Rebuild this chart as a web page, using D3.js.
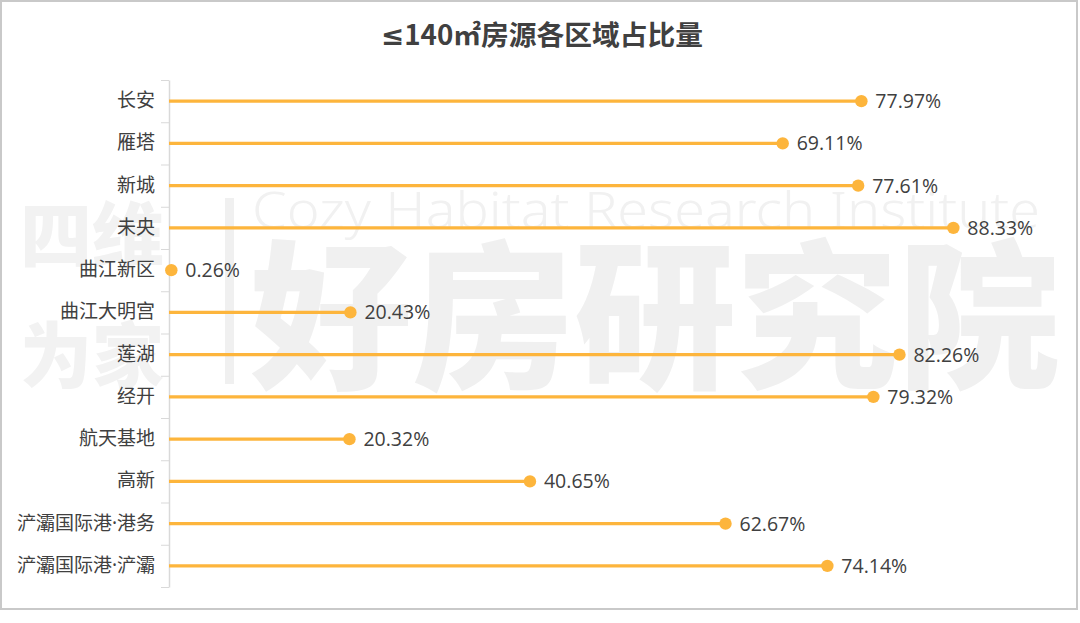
<!DOCTYPE html>
<html><head><meta charset="utf-8">
<script src="https://cdn.jsdelivr.net/npm/d3@7"></script>
<style>
html,body{margin:0;padding:0;background:#fff;}
svg{display:block;}
</style></head>
<body>
<svg id="chart" width="1080" height="623"></svg>
<script>
const categories = ["长安","雁塔","新城","未央","曲江新区","曲江大明宫","莲湖","经开","航天基地","高新","浐灞国际港·港务","浐灞国际港·浐灞"];
const values = [77.97,69.11,77.61,88.33,0.26,20.43,82.26,79.32,20.32,40.65,62.67,74.14];
const title = "≤140㎡房源各区域占比量";
const watermarkEn = "Cozy Habitat Research Institute";
const watermarkCn = "好房研究院";

const svg = d3.select("#chart");
const cjk = "'Noto Sans CJK SC','Noto Sans',sans-serif";

// frame
svg.append("rect").attr("x",1).attr("y",1).attr("width",1076).attr("height",608)
  .attr("fill","#fff").attr("stroke","#c9c9c9").attr("stroke-width",2);

// watermark
const wm = svg.append("g");
wm.append("text").attr("x",252).attr("y",228).attr("font-family","'Noto Sans','Open Sans',sans-serif")
  .attr("font-weight",300).attr("font-size",50).attr("textLength",788).attr("lengthAdjust","spacingAndGlyphs")
  .attr("fill","#f1f1f1").text(watermarkEn);
wm.append("text").attr("x",250).attr("y",376).attr("font-family",cjk).attr("font-weight",900)
  .attr("font-size",160).attr("textLength",810).attr("lengthAdjust","spacingAndGlyphs")
  .attr("fill","#f0f0f0").text(watermarkCn);
wm.append("text").attr("x",20).attr("y",262).attr("font-family",cjk).attr("font-weight",900)
  .attr("font-size",72).attr("fill","#f2f2f2").text("四维");
wm.append("text").attr("x",20).attr("y",382).attr("font-family",cjk).attr("font-weight",900)
  .attr("font-size",72).attr("fill","#f2f2f2").text("为家");
wm.append("rect").attr("x",225).attr("y",198).attr("width",9).attr("height",186).attr("fill","#f0f0f0");

// title
const t = svg.append("text").attr("x",381).attr("y",45)
  .attr("font-family",cjk).attr("font-weight",700).attr("font-size",27.5)
  .attr("textLength",322).attr("lengthAdjust","spacingAndGlyphs")
  .attr("fill","#404040");
t.append("tspan").attr("font-family","'DejaVu Sans',sans-serif").text(title.slice(0,1));
t.append("tspan").text(title.slice(1));

const x = d3.scaleLinear().domain([0,100]).range([169,1057]);
const y = d3.scaleBand().domain(categories).range([80,587]);
const yb = d3.scaleLinear().domain([0,categories.length]).range([80,587]);

// boundary ticks and axis line
const gTicks = svg.append("g").attr("transform","translate(169,0)")
  .call(d3.axisLeft(yb).tickValues(d3.range(categories.length+1)).tickFormat("").tickSize(8).tickSizeOuter(0));
gTicks.selectAll("line").attr("stroke","#d9d9d9");
gTicks.select(".domain").attr("stroke","#d9d9d9").attr("stroke-width",1.5);

// labels
const gLab = svg.append("g").attr("transform","translate(169,0)")
  .call(d3.axisLeft(y).tickSize(0).tickPadding(14));
gLab.select(".domain").remove();
gLab.selectAll("text").attr("font-family",cjk).attr("font-size",19).attr("fill","#404040")
  .each(function(d){
    const el = d3.select(this);
    el.text(null);
    const parts = d.split("·");
    parts.forEach((p,i)=>{
      if(i>0) el.append("tspan").attr("font-family","'Noto Sans',sans-serif").text("·");
      el.append("tspan").text(p);
    });
  });

const data = categories.map((c,i)=>({c, v: values[i]}));
const color = "#FDB53C";

svg.append("g").selectAll("line").data(data).join("line")
  .attr("x1",x(0)).attr("x2",d=>x(d.v))
  .attr("y1",d=>y(d.c)+y.bandwidth()/2).attr("y2",d=>y(d.c)+y.bandwidth()/2)
  .attr("stroke",color).attr("stroke-width",3.2);

svg.append("g").selectAll("circle").data(data).join("circle")
  .attr("cx",d=>x(d.v)).attr("cy",d=>y(d.c)+y.bandwidth()/2).attr("r",6.2)
  .attr("fill",color);

svg.append("g").selectAll("text").data(data).join("text")
  .attr("x",d=>x(d.v)+14).attr("y",d=>y(d.c)+y.bandwidth()/2)
  .attr("dy","0.36em")
  .attr("font-family","'Open Sans','Noto Sans',sans-serif").attr("font-size",19.5)
  .attr("fill","#404040").text(d=>d.v.toFixed(2)+"%");
</script>
</body></html>
